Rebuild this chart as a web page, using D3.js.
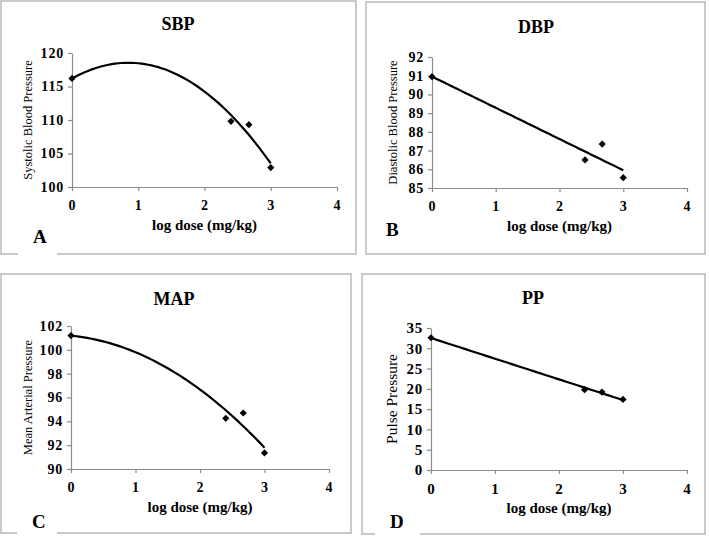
<!DOCTYPE html>
<html>
<head>
<meta charset="utf-8">
<script src="https://cdn.jsdelivr.net/npm/d3@7"></script>
<style>
  body { margin: 0; background: #fff; }
  svg { display: block; font-family: "Liberation Serif", "Times New Roman", serif; }
</style>
</head>
<body>
<svg id="chart" width="709" height="537"></svg>
<script>
// log dose, shared by all four panels
var log_dose = [0, 2.4, 2.67, 3];

var sbp_values = [116.2, 109.8, 109.3, 102.9];
var dbp_values = [90.95, 86.5, 87.35, 85.55];
var map_values = [101.2, 94.25, 94.7, 91.35];
var pp_values  = [32.6, 19.8, 19.2, 17.4];

var x_ticks   = [0, 1, 2, 3, 4];
var sbp_ticks = [100, 105, 110, 115, 120];
var dbp_ticks = [85, 86, 87, 88, 89, 90, 91, 92];
var map_ticks = [90, 92, 94, 96, 98, 100, 102];
var pp_ticks  = [0, 5, 10, 15, 20, 25, 30, 35];

var panel_titles  = ['SBP', 'DBP', 'MAP', 'PP'];
var panel_letters = ['A', 'B', 'C', 'D'];
var y_titles = ['Systolic Blood Pressure', 'Diastolic Blood Pressure', 'Mean Arterial Pressure', 'Pulse Pressure'];
var x_title = 'log dose (mg/kg)';
var trend_orders = [2, 1, 2, 1]; // polynomial (2) or linear (1) trendline

var series = [sbp_values, dbp_values, map_values, pp_values];
var y_tick_sets = [sbp_ticks, dbp_ticks, map_ticks, pp_ticks];

// pixel layout of each panel: box [x0,y0,x1,y1], plot [left,right,bottom,top]
var layout = [
  { box: [1, 1, 356, 254],     plot: [72, 337, 187, 53],    title: [178, 30],  letter: [33, 243],  ysize: 12.5, ygap: 44, tsize: 14, gap: [18, 57] },
  { box: [366, 2, 705, 254],   plot: [432, 687, 188, 57],   title: [536, 33],  letter: [386, 236], ysize: 12.5, ygap: 39, tsize: 14, gap: null },
  { box: [1, 274, 351, 533],   plot: [71, 329, 469, 326],   title: [174, 305], letter: [32, 528],  ysize: 12.5, ygap: 43, tsize: 14, gap: [17, 57] },
  { box: [362, 274, 705, 534], plot: [431, 687, 470, 328],  title: [533, 304], letter: [390, 528], ysize: 15.5, ygap: 39, tsize: 15, gap: [375, 420] }
];

var axis_color = '#8c8c8c';
var svg = d3.select('#chart');

// least squares polynomial fit, like the spreadsheet trendline
function poly_fit(xs, ys, order) {
  var n = order + 1;
  var m = [];
  var i, j;
  for (i = 0; i < n; i++) {
    m.push([]);
    for (j = 0; j < n; j++) {
      m[i].push(d3.sum(xs, function (x) { return Math.pow(x, i + j); }));
    }
    m[i].push(d3.sum(xs, function (x, k) { return Math.pow(x, i) * ys[k]; }));
  }
  for (i = 0; i < n; i++) {
    for (var r = i + 1; r < n; r++) {
      var f = m[r][i] / m[i][i];
      for (var c = i; c <= n; c++) m[r][c] -= f * m[i][c];
    }
  }
  var coef = [];
  for (i = n - 1; i >= 0; i--) {
    var s = m[i][n];
    for (j = i + 1; j < n; j++) s -= m[i][j] * coef[j];
    coef[i] = s / m[i][i];
  }
  return coef;
}

function draw_panel(p) {
  var L = layout[p];
  var g = svg.append('g');

  // frame
  g.append('rect')
    .attr('x', L.box[0]).attr('y', L.box[1])
    .attr('width', L.box[2] - L.box[0]).attr('height', L.box[3] - L.box[1])
    .attr('fill', '#fff').attr('stroke', '#bdbdbd').attr('stroke-width', 1.6);
  if (L.gap) {
    g.append('rect')
      .attr('x', L.gap[0]).attr('y', L.box[3] - 2)
      .attr('width', L.gap[1] - L.gap[0]).attr('height', 4)
      .attr('fill', '#fff');
  }

  var ticks = y_tick_sets[p];
  var x = d3.scaleLinear().domain([0, 4]).range([L.plot[0], L.plot[1]]);
  var y = d3.scaleLinear().domain([ticks[0], ticks[ticks.length - 1]]).range([L.plot[2], L.plot[3]]);

  var xa = g.append('g')
    .attr('transform', 'translate(0,' + L.plot[2] + ')')
    .call(d3.axisBottom(x).tickValues(x_ticks).tickFormat(d3.format('d'))
      .tickSize(4).tickSizeOuter(0).tickPadding(9));
  var ya = g.append('g')
    .attr('transform', 'translate(' + L.plot[0] + ',0)')
    .call(d3.axisLeft(y).tickValues(ticks).tickFormat(d3.format('d'))
      .tickSize(4).tickSizeOuter(0).tickPadding(4));

  [xa, ya].forEach(function (a) {
    a.select('.domain').attr('stroke', axis_color).attr('stroke-width', 1.2);
    a.selectAll('.tick line').attr('stroke', axis_color).attr('stroke-width', 1.2);
    a.selectAll('.tick text')
      .attr('fill', '#000')
      .style('font-family', '"Liberation Serif", serif')
      .style('font-size', L.tsize + 'px')
      .style('font-weight', 'bold')
      .style('letter-spacing', '0.8px');
  });

  // trendline
  var coef = poly_fit(log_dose, series[p], trend_orders[p]);
  var xs = d3.range(0, 3.0001, 0.05);
  var line = d3.line()
    .x(function (d) { return x(d); })
    .y(function (d) {
      return y(d3.sum(coef, function (c, k) { return c * Math.pow(d, k); }));
    });
  g.append('path')
    .datum(xs)
    .attr('d', line)
    .attr('fill', 'none')
    .attr('stroke', '#000')
    .attr('stroke-width', 2.2);

  // points
  g.selectAll('.pt')
    .data(log_dose)
    .enter().append('path')
    .attr('class', 'pt')
    .attr('d', d3.symbol(d3.symbolSquare, 26))
    .attr('transform', function (d, i) {
      return 'translate(' + x(d) + ',' + y(series[p][i]) + ') rotate(45)';
    })
    .attr('fill', '#000');

  // text
  g.append('text')
    .attr('x', L.title[0]).attr('y', L.title[1])
    .attr('text-anchor', 'middle')
    .style('font-size', '18px')
    .style('font-weight', 'bold')
    .text(panel_titles[p]);

  g.append('text')
    .attr('x', (L.plot[0] + L.plot[1]) / 2).attr('y', L.plot[2] + 43)
    .attr('text-anchor', 'middle')
    .style('font-size', '15px')
    .style('font-weight', 'bold')
    .text(x_title);

  g.append('text')
    .attr('transform', 'translate(' + (L.plot[0] - L.ygap) + ',' + ((L.plot[2] + L.plot[3]) / 2) + ') rotate(-90)')
    .attr('text-anchor', 'middle')
    .attr('dy', '0.35em')
    .style('font-size', L.ysize + 'px')
    .text(y_titles[p]);

  g.append('text')
    .attr('x', L.letter[0]).attr('y', L.letter[1])
    .style('font-size', '19px')
    .style('font-weight', 'bold')
    .text(panel_letters[p]);
}

for (var p = 0; p < 4; p++) draw_panel(p);
</script>
</body>
</html>
